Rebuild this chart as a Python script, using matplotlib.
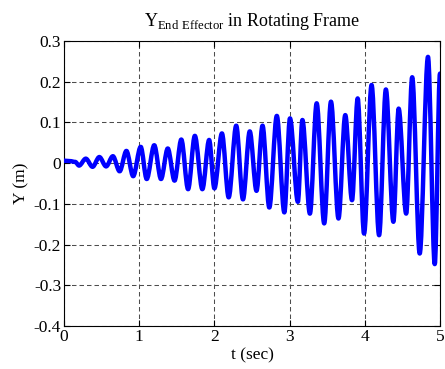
import matplotlib
matplotlib.use("Agg")
import matplotlib.pyplot as plt
from matplotlib.path import Path
from matplotlib.patches import PathPatch
from matplotlib.ticker import FuncFormatter

# Extrema (peaks/troughs)
t_ext = [0.0, 0.08, 0.15, 0.20, 0.29, 0.38, 0.47, 0.56, 0.65, 0.74, 0.83, 0.92,
         1.02, 1.10, 1.20, 1.29, 1.38, 1.47, 1.56, 1.65, 1.74, 1.84, 1.93, 2.00,
         2.10, 2.19, 2.29, 2.38, 2.47, 2.56, 2.64, 2.73, 2.83, 2.93, 3.005, 3.11,
         3.17, 3.27, 3.36, 3.46, 3.55, 3.65, 3.74, 3.83, 3.905, 3.99, 4.09, 4.19,
         4.28, 4.38, 4.45, 4.55, 4.63, 4.73, 4.84, 4.93, 5.0]
y_ext = [0.006, 0.005, 0.003, -0.006, 0.011, -0.009, 0.015, -0.008, 0.017, -0.02, 0.03, -0.032,
         0.04, -0.039, 0.044, -0.039, 0.036, -0.043, 0.058, -0.064, 0.067, -0.064, 0.057, -0.062,
         0.073, -0.084, 0.092, -0.089, 0.078, -0.068, 0.092, -0.109, 0.116, -0.121, 0.11, -0.095,
         0.106, -0.124, 0.147, -0.148, 0.151, -0.136, 0.118, -0.091, 0.159, -0.173, 0.192, -0.177,
         0.181, -0.144, 0.134, -0.124, 0.211, -0.222, 0.261, -0.248, 0.22]

x_ticks = [0, 1, 2, 3, 4, 5]
y_ticks = [-0.4, -0.3, -0.2, -0.1, 0, 0.1, 0.2, 0.3]

plt.rcParams['font.family'] = ['Liberation Serif', 'DejaVu Serif']
plt.rcParams['mathtext.fontset'] = 'custom'
plt.rcParams['mathtext.rm'] = 'Liberation Serif'
plt.rcParams['axes.unicode_minus'] = False

fig = plt.figure(figsize=(4.45, 3.69), dpi=100)
ax = fig.add_axes([0.1438, 0.1165, 0.845, 0.7724])

# Smooth curve through extrema using cubic Bezier segments with flat tangents
verts = [(t_ext[0], y_ext[0])]
codes = [Path.MOVETO]
for i in range(1, len(t_ext)):
    t0, y0 = t_ext[i - 1], y_ext[i - 1]
    t1, y1 = t_ext[i], y_ext[i]
    dt = t1 - t0
    verts += [(t0 + dt * 0.33, y0), (t1 - dt * 0.33, y1), (t1, y1)]
    codes += [Path.CURVE4, Path.CURVE4, Path.CURVE4]
patch = PathPatch(Path(verts, codes), facecolor='none', edgecolor=(0, 0, 1),
                  linewidth=3.2, capstyle='round', joinstyle='round', zorder=3)
ax.add_patch(patch)

ax.set_xlim(0, 5)
ax.set_ylim(-0.4, 0.3)
ax.set_xticks(x_ticks)
ax.set_yticks(y_ticks)
ax.yaxis.set_major_formatter(FuncFormatter(lambda v, p: '0' if abs(v) < 1e-9 else f'{v:.1f}'))
ax.grid(True, color='0.3', linestyle=(0, (4.3, 2.9)), linewidth=0.75)
ax.tick_params(direction='in', length=4, width=0.8, labelsize=12.5,
               top=True, right=True, pad=2)
for s in ax.spines.values():
    s.set_linewidth(0.8)
ax.set_xlabel('t (sec)', fontsize=12.5, labelpad=2)
ax.set_ylabel('Y (m)', fontsize=12.5, labelpad=3)
ax.set_title(r'Y$_{\mathrm{End\ Effector}}$ in Rotating Frame', fontsize=13, pad=11)

fig.savefig('out.png', dpi=100)
